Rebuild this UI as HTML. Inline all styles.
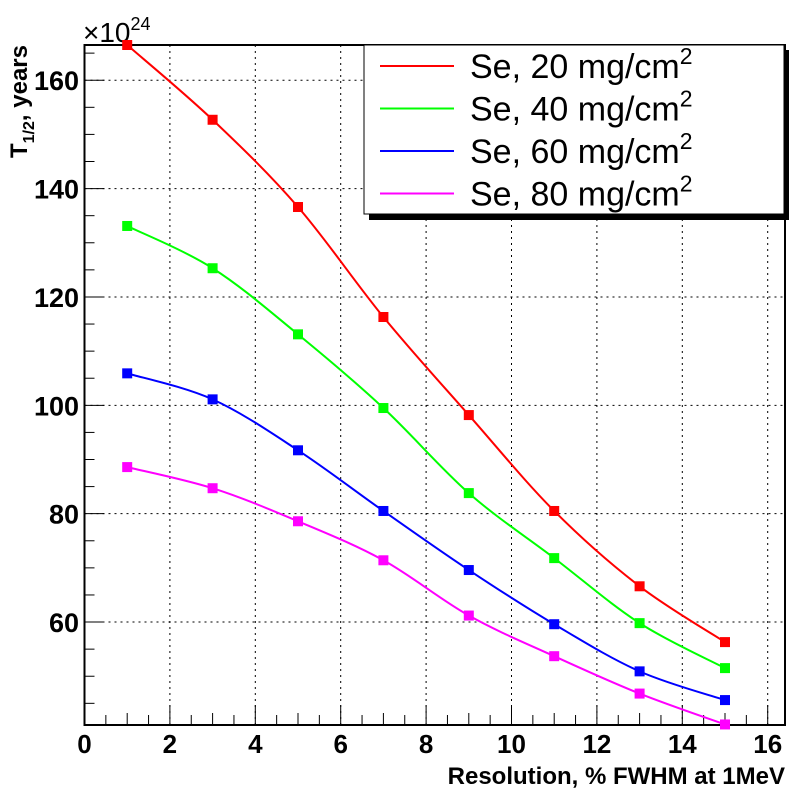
<!DOCTYPE html>
<html><head><meta charset="utf-8"><style>
html,body{margin:0;padding:0;background:#fff;}
svg{display:block;font-family:"Liberation Sans",Arial,sans-serif;}
</style></head><body>
<svg id="chart" width="805" height="800" viewBox="0 0 805 800"></svg>
<script>
const xValues=[1,3,5,7,9,11,13,15];
const seriesNames=["Se, 20 mg/cm","Se, 40 mg/cm","Se, 60 mg/cm","Se, 80 mg/cm"];
const seriesColors=["#ff0000","#00ff00","#0000ff","#ff00ff"];
const red20=[166.5,152.7,136.6,116.3,98.2,80.5,66.6,56.3];
const green40=[133.1,125.3,113.1,99.5,83.8,71.8,59.8,51.5];
const blue60=[105.9,101.1,91.7,80.5,69.6,59.6,50.9,45.6];
const magenta80=[88.6,84.7,78.6,71.4,61.2,53.7,46.8,41.1];
const xTicks=[0,2,4,6,8,10,12,14,16];
const yTicks=[60,80,100,120,140,160];

const NS="http://www.w3.org/2000/svg";
const svg=document.getElementById('chart');
const L=84.5,R=785,T=45,B=725;
const xMin=0,xMax=(R-L)/42.7,yMin=41.0,yMax=166.5;
const X=v=>L+(v-xMin)/(xMax-xMin)*(R-L);
const Y=v=>B-(v-yMin)/(yMax-yMin)*(B-T);
function el(tag,attrs,parent){const e=document.createElementNS(NS,tag);for(const k in attrs)e.setAttribute(k,attrs[k]);(parent||svg).appendChild(e);return e;}

const grid=el('g',{});


xTicks.forEach(t=>{if(t>0&&X(t)<R)el('line',{x1:X(t),x2:X(t),y1:T,y2:B,stroke:'#000','stroke-width':1,'stroke-dasharray':'2,4'},grid);});
yTicks.forEach(t=>{el('line',{x1:L,x2:R,y1:Y(t),y2:Y(t),stroke:'#000','stroke-width':1,'stroke-dasharray':'2,4'},grid);});

const ticks=el('g',{stroke:'#000','stroke-width':1});


for(let v=0;v<=xMax+1e-6;v+=0.5){const isInt=Math.abs(v-Math.round(v))<1e-6;const big=isInt&&Math.round(v)%2===0;el('line',{x1:X(v),x2:X(v),y1:B,y2:B-(big?20:(isInt?12:10))},ticks);}
for(let v=45;v<=yMax;v+=5){const big=v%20===0;el('line',{x1:L,x2:L+(big?20:10),y1:Y(v),y2:Y(v)},ticks);}

const frame=el('rect',{x:L,y:T,width:R-L,height:B-T,fill:'none',stroke:'#000','stroke-width':2});



xTicks.forEach(t=>{const tx=el('text',{x:X(t),y:753,'text-anchor':'middle','font-size':26,'font-weight':'bold'});tx.textContent=t;

});
yTicks.forEach(t=>{const ty=el('text',{x:79,y:Y(t)+10,'text-anchor':'end','font-size':27,'font-weight':'bold'});ty.textContent=t;

});

const ex=el('text',{x:83,y:42,'font-size':28});


ex.innerHTML='×10<tspan dy="-12" font-size="18">24</tspan>';

const xt=el('text',{x:785,y:784,'text-anchor':'end','font-size':24,'font-weight':'bold'});
xt.textContent='Resolution, % FWHM at 1MeV';


const yt=el('text',{x:0,y:0,'text-anchor':'end','font-size':24,'font-weight':'bold',transform:'translate(27,45) rotate(-90)'});
yt.innerHTML='T<tspan dy="7" font-size="16">1/2</tspan><tspan dy="-7">, years</tspan>';



const allSeries=[red20,green40,blue60,magenta80];
function spline(pts){let d=`M${pts[0][0]},${pts[0][1]}`;for(let i=0;i<pts.length-1;i++){const p0=pts[Math.max(0,i-1)],p1=pts[i],p2=pts[i+1],p3=pts[Math.min(pts.length-1,i+2)];const c1=[p1[0]+(p2[0]-p0[0])/6,p1[1]+(p2[1]-p0[1])/6],c2=[p2[0]-(p3[0]-p1[0])/6,p2[1]-(p3[1]-p1[1])/6];d+=` C${c1[0]},${c1[1]} ${c2[0]},${c2[1]} ${p2[0]},${p2[1]}`;}return d;}
const keys=['se-20','se-40','se-60','se-80'];
allSeries.forEach((vals,si)=>{
  const g=el('g',{});
  
  
  const pts=vals.map((v,i)=>[X(xValues[i]),Y(v)]);
  const p=el('path',{d:spline(pts),fill:'none',stroke:seriesColors[si],'stroke-width':2},g);
  
  
  pts.forEach(pt=>{const r=el('rect',{x:pt[0]-5,y:pt[1]-5,width:10,height:10,fill:seriesColors[si]},g);
  
  });
});

const lg=el('g',{});


el('rect',{x:369,y:50,width:420,height:170,fill:'#000'},lg);
el('rect',{x:364,y:45,width:420,height:169,fill:'#fff',stroke:'#000','stroke-width':1},lg);
seriesNames.forEach((n,i)=>{
  const yy=66+i*42.5;
  const e=el('g',{},lg);
  
  
  el('line',{x1:380,x2:454,y1:yy,y2:yy,stroke:seriesColors[i],'stroke-width':2},e);
  const t=el('text',{x:470,y:yy+12,'font-size':34},e);
  t.innerHTML=n+'<tspan dy="-14" font-size="23">2</tspan>';
});
</script>
</body></html>
